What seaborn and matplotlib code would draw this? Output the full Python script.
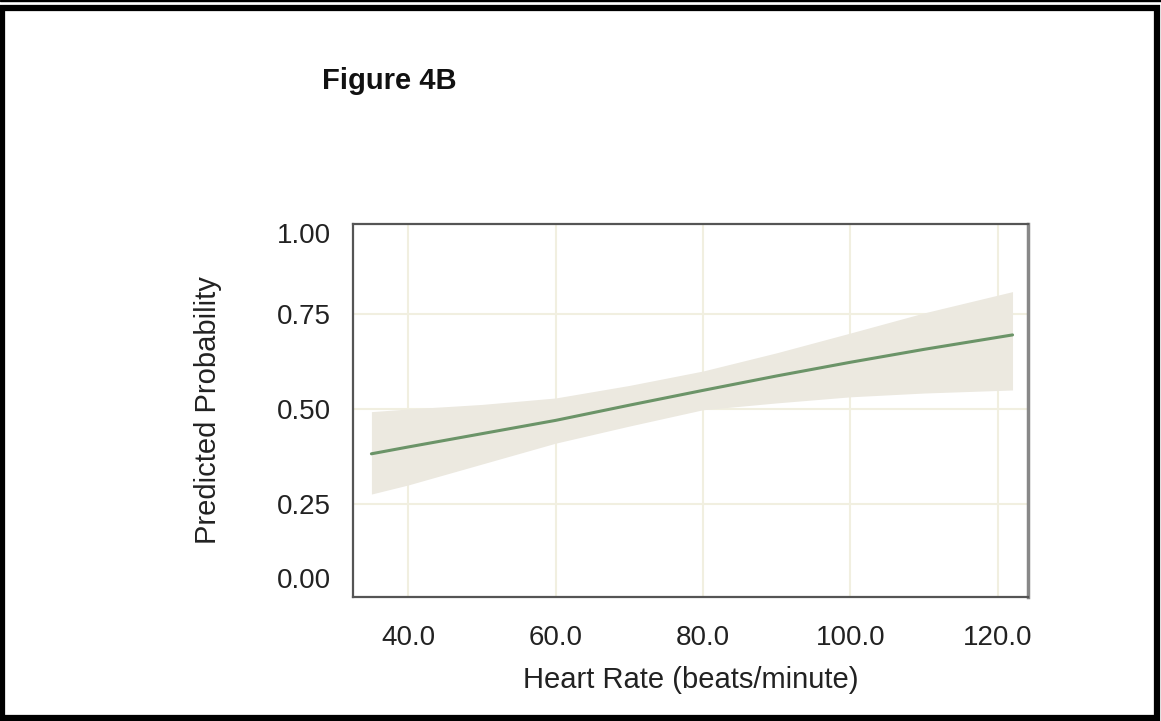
import matplotlib
matplotlib.use("Agg")
import matplotlib.pyplot as plt
import seaborn as sns
import pandas as pd
from matplotlib.patches import Rectangle

# Data
heart_rate = [35, 40, 50, 60, 70, 80, 90, 100, 110, 122]
predicted = [0.382, 0.400, 0.435, 0.470, 0.510, 0.549, 0.587, 0.623, 0.657, 0.695]
ci_lower = [0.276, 0.300, 0.355, 0.410, 0.455, 0.498, 0.516, 0.532, 0.542, 0.550]
ci_upper = [0.493, 0.500, 0.512, 0.529, 0.562, 0.600, 0.648, 0.700, 0.753, 0.809]

x_ticks = [40, 60, 80, 100, 120]
x_tick_labels = ["40.0", "60.0", "80.0", "100.0", "120.0"]
y_grid = [0.25, 0.50, 0.75]
y_tick_pos = [0.055, 0.25, 0.50, 0.75, 0.963]
y_tick_labels = ["0.00", "0.25", "0.50", "0.75", "1.00"]

df = pd.DataFrame({"hr": heart_rate, "pred": predicted, "lo": ci_lower, "hi": ci_upper})

sns.set_theme(style="white")
plt.rcParams["font.family"] = ["Liberation Sans", "DejaVu Sans"]

fig = plt.figure(figsize=(11.61, 7.21), dpi=100)
ax = fig.add_axes([353 / 1161, 1 - 597 / 721, (1028 - 353) / 1161, (597 - 224) / 721])

grid_color = "#F1EFE0"
for xv in x_ticks:
    ax.axvline(xv, color=grid_color, lw=1.5, zorder=0)
for yv in y_grid:
    ax.axhline(yv, color=grid_color, lw=1.5, zorder=0)

ax.fill_between(df["hr"], df["lo"], df["hi"], color="#ECE9E0", lw=0, zorder=1)
sns.lineplot(data=df, x="hr", y="pred", ax=ax, color="#6B9468", lw=2.2, zorder=2)

ax.set_xlim(32.5, 124.1)
ax.set_ylim(0.005, 0.987)
ax.set_xticks(x_ticks)
ax.set_xticklabels(x_tick_labels)
ax.set_yticks(y_tick_pos)
ax.set_yticklabels(y_tick_labels)
ax.tick_params(axis="x", length=0, pad=20, labelsize=20, colors="#222222")
ax.tick_params(axis="y", length=0, pad=16, labelsize=20, colors="#222222")
ax.set_xlabel("Heart Rate (beats/minute)", fontsize=21, color="#222222", labelpad=11)
ax.set_ylabel("Predicted Probability", fontsize=21, color="#222222", labelpad=39)

for side, sp in ax.spines.items():
    sp.set_visible(True)
    sp.set_color("#555555")
    sp.set_linewidth(1.6)
ax.spines["right"].set_linewidth(2.5)
ax.spines["right"].set_color("#888888")

fig.text(322 / 1161, 1 - 81 / 721, "Figure 4B", fontsize=21, fontweight="bold",
         ha="left", va="center", color="#111111")

# Page border
fig.patches.append(Rectangle((2 / 1161, 3 / 721), 1155 / 1161, 710 / 721,
                             transform=fig.transFigure, fill=False, edgecolor="black",
                             linewidth=4.5, zorder=10))
fig.patches.append(Rectangle((0, 0.998), 1, 0.002, transform=fig.transFigure,
                             color="black", zorder=10))

fig.savefig("out.png", dpi=100)
